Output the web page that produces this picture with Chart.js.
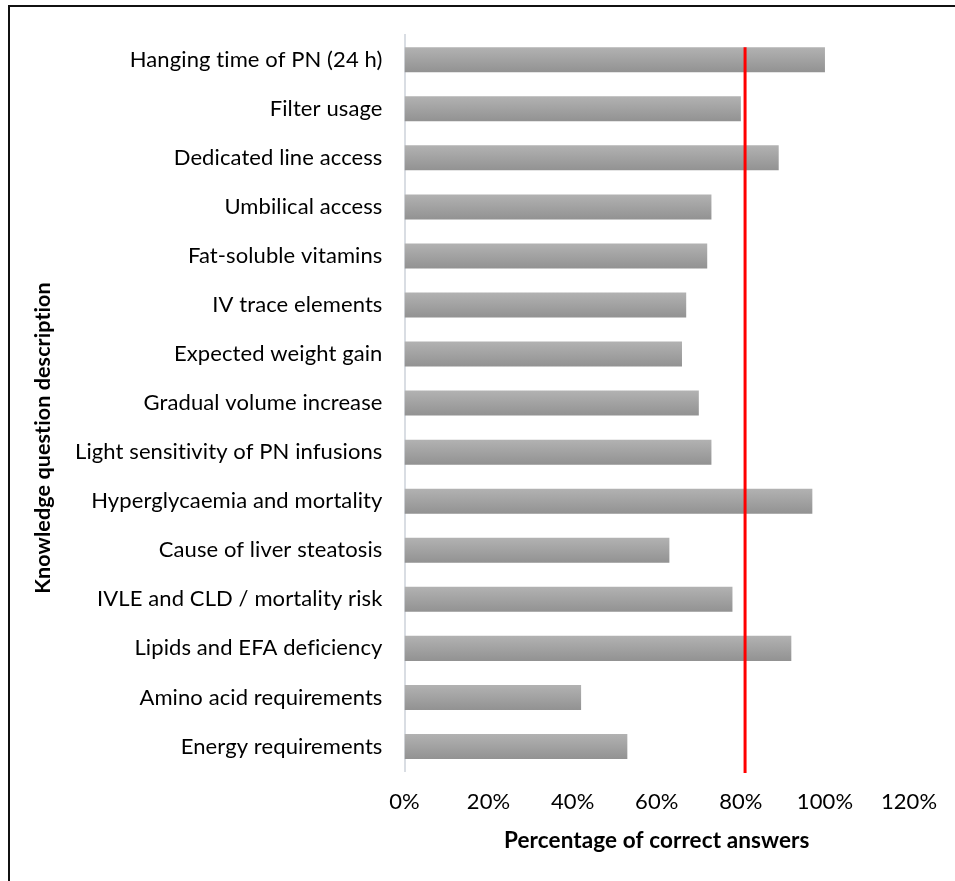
<!DOCTYPE html>
<html>
<head>
<meta charset="utf-8">
<script src="https://cdn.jsdelivr.net/npm/chart.js@4"></script>
<style>
  html, body { margin: 0; padding: 0; background: #fff; overflow: hidden; }
  #wrap { position: relative; width: 955px; height: 881px; }
  #frame { position: absolute; left: 8px; top: 5px; width: 1100px; height: 1100px;
           border-left: 2px solid #111; border-top: 2px solid #111; pointer-events: none; }
  canvas { position: absolute; left: 0; top: 0; }
</style>
</head>
<body>
<div id="wrap">
  <canvas id="chart" width="955" height="881"></canvas>
  <div id="frame"></div>
</div>
<script>
// Knowledge questions, listed top to bottom
const questions = [
  'Hanging time of PN (24 h)',
  'Filter usage',
  'Dedicated line access',
  'Umbilical access',
  'Fat-soluble vitamins',
  'IV trace elements',
  'Expected weight gain',
  'Gradual volume increase',
  'Light sensitivity of PN infusions',
  'Hyperglycaemia and mortality',
  'Cause of liver steatosis',
  'IVLE and CLD / mortality risk',
  'Lipids and EFA deficiency',
  'Amino acid requirements',
  'Energy requirements'
];

// Share of correct answers per question (%)
const correctPct = [100, 80, 89, 73, 72, 67, 66, 70, 73, 97, 63, 78, 92, 42, 53];

// Target threshold (%) shown as the red reference line
const thresholdPct = 81;

// Axis ticks (%)
const xTicks = [0, 20, 40, 60, 80, 100, 120];

const FONT = 'Lato, "Open Sans", sans-serif';
const BAR_PCT = 0.51;

function barFill(ctx) {
  const chart = ctx.chart;
  if (!chart.chartArea || ctx.type !== 'data') return '#a2a2a2';
  const y = chart.scales.y;
  const center = y.getPixelForValue(ctx.dataIndex);
  const half = (y.height / questions.length) * BAR_PCT / 2;
  const g = chart.ctx.createLinearGradient(0, center - half, 0, center + half);
  g.addColorStop(0, '#b2b2b2');
  g.addColorStop(1, '#929292');
  return g;
}

// Plain glyphs (no "ti"/"fi" ligatures) for all canvas text
const plainText = {
  id: 'plainText',
  beforeDraw(chart) {
    if ('letterSpacing' in chart.ctx) chart.ctx.letterSpacing = '0.1px';
  }
};

// Red vertical threshold line
const thresholdLine = {
  id: 'thresholdLine',
  afterDatasetsDraw(chart) {
    const { ctx, chartArea, scales } = chart;
    const x = scales.x.getPixelForValue(thresholdPct);
    const half = (scales.y.height / questions.length) * BAR_PCT / 2;
    const top = scales.y.getPixelForValue(0) - half;
    ctx.save();
    ctx.strokeStyle = '#ff0000';
    ctx.lineWidth = 3;
    ctx.beginPath();
    ctx.moveTo(x, top);
    ctx.lineTo(x, chartArea.bottom + 2);
    ctx.stroke();
    ctx.restore();
  }
};

// Rotated y-axis title, centred on the framed area
const yTitle = {
  id: 'yTitle',
  afterDraw(chart) {
    const { ctx } = chart;
    ctx.save();
    ctx.translate(43, 438);
    ctx.rotate(-Math.PI / 2);
    ctx.font = 'bold 21.5px ' + FONT;
    ctx.fillStyle = '#000';
    ctx.textAlign = 'center';
    ctx.textBaseline = 'middle';
    ctx.fillText('Knowledge question description', 0, 0);
    ctx.restore();
  }
};

new Chart(document.getElementById('chart'), {
  type: 'bar',
  data: {
    labels: questions,
    datasets: [{
      data: correctPct,
      backgroundColor: barFill,
      borderWidth: 0,
      barPercentage: BAR_PCT,
      categoryPercentage: 1
    }]
  },
  options: {
    indexAxis: 'y',
    responsive: false,
    animation: false,
    events: [],
    layout: { padding: { left: 0, top: 35, right: 41.5, bottom: 0 } },
    plugins: { legend: { display: false }, tooltip: { enabled: false } },
    scales: {
      x: {
        min: 0,
        max: 120,
        afterBuildTicks(scale) { scale.ticks = xTicks.map(v => ({ value: v })); },
        afterFit(scale) { scale.height = 110; },
        grid: { display: false, drawTicks: false },
        border: { display: false },
        ticks: {
          padding: 18,
          color: '#000',
          font: { family: FONT, size: 22 },
          callback: v => v + '%'
        },
        title: {
          display: true,
          text: 'Percentage of correct answers',
          color: '#000',
          font: { family: FONT, size: 22.5, weight: 'bold' },
          padding: { top: 0, bottom: 27 }
        }
      },
      y: {
        afterFit(scale) { scale.width = 404.5; },
        grid: { display: false, drawTicks: false },
        border: { display: true, color: '#d9dde3', width: 2 },
        ticks: {
          padding: 22,
          color: '#000',
          font: { family: FONT, size: 22 }
        }
      }
    }
  },
  plugins: [plainText, thresholdLine, yTitle]
});
</script>
</body>
</html>
